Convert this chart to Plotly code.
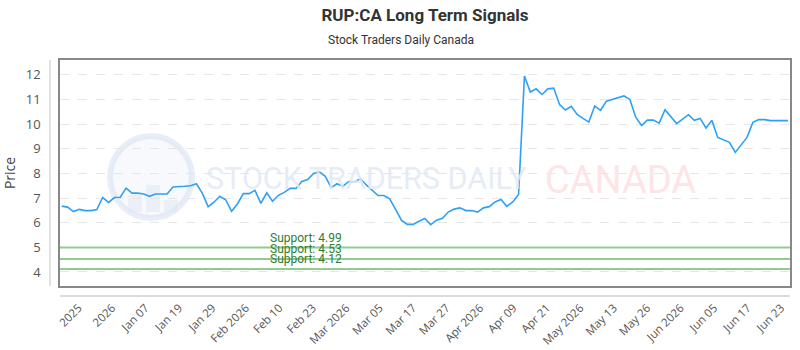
import plotly.graph_objects as go

# ---- data ----
prices = [
    6.67, 6.63, 6.45, 6.54, 6.49, 6.49, 6.53, 7.02, 6.82, 7.02,
    7.03, 7.40, 7.20, 7.20, 7.16, 7.07, 7.16, 7.16, 7.16, 7.45,
    7.45, 7.48, 7.50, 7.58, 7.20, 6.65, 6.83, 7.07, 6.93, 6.46,
    6.76, 7.18, 7.18, 7.31, 6.78, 7.21, 6.87, 7.11, 7.23, 7.39,
    7.39, 7.67, 7.75, 8.00, 8.06, 7.88, 7.42, 7.58, 7.47, 7.67,
    7.65, 7.78, 7.53, 7.31, 7.10, 7.10, 6.97, 6.54, 6.10, 5.93,
    5.93, 6.06, 6.17, 5.92, 6.10, 6.18, 6.43, 6.55, 6.60, 6.49,
    6.49, 6.43, 6.60, 6.65, 6.84, 6.94, 6.66, 6.84, 7.14, 11.95,
    11.30, 11.43, 11.20, 11.43, 11.46, 10.79, 10.57, 10.72, 10.39, 10.23,
    10.08, 10.73, 10.56, 10.93, 11.00, 11.06, 11.14, 11.00, 10.28, 9.94,
    10.16, 10.16, 10.04, 10.58, 10.30, 10.02, 10.20, 10.38, 10.15, 10.23,
    9.84, 10.15, 9.46, 9.37, 9.26, 8.85, 9.15, 9.46, 10.07, 10.18,
    10.18, 10.14, 10.14, 10.14, 10.14,
]
tick_labels = [
    "2025", "2026", "Jan 07", "Jan 19", "Jan 29", "Feb 2026", "Feb 10",
    "Feb 23", "Mar 2026", "Mar 05", "Mar 17", "Mar 27", "Apr 2026",
    "Apr 09", "Apr 21", "May 2026", "May 13", "May 26", "Jun 2026",
    "Jun 05", "Jun 17", "Jun 23",
]
support_levels = [4.99, 4.53, 4.12]

# ---- figure ----
idx = list(range(len(prices)))
n = len(prices)
tick_first, tick_last = 2.9, 122.8
tick_step = (tick_last - tick_first) / (len(tick_labels) - 1)
tick_vals = [tick_first + k * tick_step for k in range(len(tick_labels))]

PL, PR, PT, PB = 60, 790, 60, 286   # plot area in pixels
PW, PH = PR - PL, PB - PT


def px(x):
    return (x - PL) / PW


def py(y):
    return (PB - y) / PH


fig = go.Figure()
fig.add_trace(go.Scatter(
    x=idx, y=prices, mode="lines",
    line=dict(color="#2ea1f3", width=1.6),
    hoverinfo="skip", showlegend=False,
))

shapes = []
annotations = []

# watermark logo
shapes.append(dict(type="circle", xref="paper", yref="paper",
                   x0=px(110), x1=px(192), y0=py(218), y1=py(136),
                   line=dict(color="rgba(210,222,240,0.5)", width=6),
                   fillcolor="rgba(228,235,246,0.3)", layer="below"))
for bx0, bx1, by in [(128, 142, 195), (146, 160, 185), (164, 178, 200)]:
    shapes.append(dict(type="rect", xref="paper", yref="paper",
                       x0=px(bx0), x1=px(bx1), y0=py(212), y1=py(by),
                       line=dict(width=0),
                       fillcolor="rgba(218,228,242,0.4)", layer="below"))

annotations.append(dict(text="STOCK TRADERS DAILY", xref="paper", yref="paper",
                        x=px(366), y=py(178), showarrow=False,
                        xanchor="center", yanchor="middle",
                        font=dict(family="Roboto", size=30.5,
                                  color="rgba(226,233,244,0.85)")))
annotations.append(dict(text="CANADA", xref="paper", yref="paper",
                        x=px(620), y=py(180), showarrow=False,
                        xanchor="center", yanchor="middle",
                        font=dict(family="Roboto", size=38,
                                  color="rgba(253,225,227,0.85)")))

# subtitle
annotations.append(dict(text="Stock Traders Daily Canada", xref="paper",
                        yref="paper", x=px(401), y=py(40), showarrow=False,
                        xanchor="center", yanchor="middle",
                        font=dict(family="Roboto", size=12, color="#333")))

# support lines + labels
for lvl in support_levels:
    shapes.append(dict(type="line", xref="paper", yref="y", x0=0, x1=1,
                       y0=lvl, y1=lvl,
                       line=dict(color="#92cb92", width=2)))
    annotations.append(dict(text=f"Support: {lvl:.2f}", xref="x", yref="y",
                            x=35.2, y=lvl, yshift=10, showarrow=False,
                            xanchor="left", yanchor="middle",
                            font=dict(family="Roboto", size=12,
                                      color="#2f7d32")))

# scrollbar-like lines
shapes.append(dict(type="line", xref="paper", yref="paper", x0=0, x1=1,
                   y0=py(296), y1=py(296),
                   line=dict(color="#cfcfcf", width=1.5)))
shapes.append(dict(type="line", xref="paper", yref="paper", x0=px(50),
                   x1=px(50), y0=0, y1=1,
                   line=dict(color="#d8d8d8", width=1.5)))

fig.update_layout(
    width=800, height=350,
    margin=dict(l=PL, r=800 - PR, t=PT, b=350 - PB, autoexpand=False),
    paper_bgcolor="white", plot_bgcolor="white",
    title=dict(
        text="<b>RUP:CA Long Term Signals</b>",
        x=0.5, xanchor="center", xref="paper",
        y=1 - 15 / 350, yanchor="middle", yref="container",
        font=dict(family="Roboto", size=17, color="#333"),
    ),
    shapes=shapes, annotations=annotations,
    xaxis=dict(
        range=[-0.29, n - 1 + 0.34], tickmode="array",
        tickvals=tick_vals, ticktext=tick_labels, tickangle=-45,
        showgrid=False, zeroline=False, automargin=False,
        showline=True, linecolor="#888", linewidth=1.5, mirror=True,
        ticks="", ticklabelstandoff=9,
        tickfont=dict(family="Open Sans", size=11.5, color="#555"),
    ),
    yaxis=dict(
        range=[3.43, 12.6], tickmode="array",
        tickvals=list(range(4, 13)), automargin=False,
        showgrid=True, gridcolor="#e6e6e6", griddash="dash", gridwidth=1,
        zeroline=False,
        showline=True, linecolor="#888", linewidth=1.5, mirror=True,
        ticks="", ticklabelstandoff=15,
        tickfont=dict(family="Open Sans", size=13, color="#555"),
        title=dict(text="Price", standoff=8,
                   font=dict(family="Open Sans", size=14, color="#444")),
    ),
)

fig.write_html("out.html")
